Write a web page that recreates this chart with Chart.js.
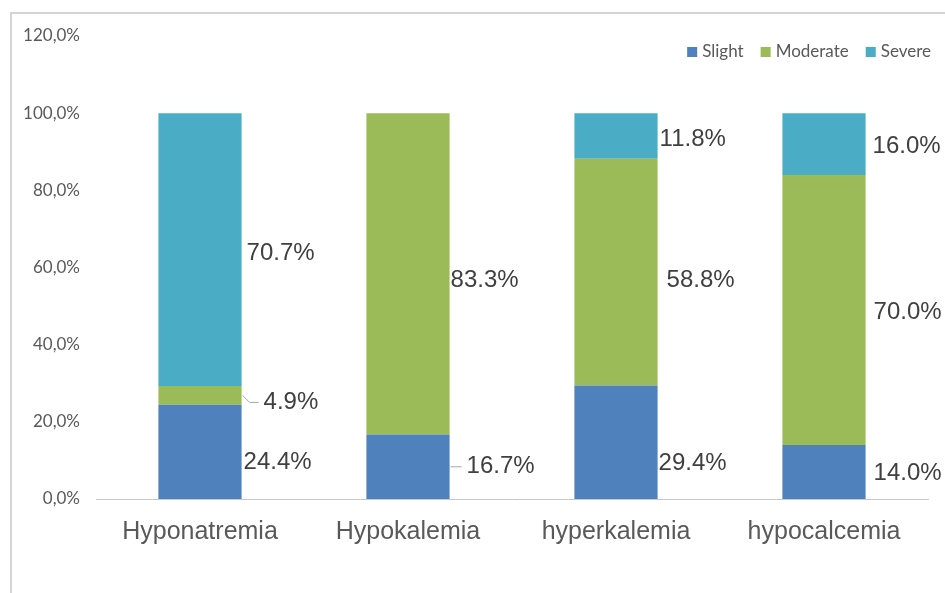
<!DOCTYPE html>
<html>
<head>
<meta charset="utf-8">
<script src="https://cdn.jsdelivr.net/npm/chart.js@4.4.1/dist/chart.umd.min.js"></script>
<style>
  html, body { margin: 0; padding: 0; background: #fff; }
  #wrap { position: relative; width: 945px; height: 593px; overflow: hidden; }
  #frame { position: absolute; left: 10px; top: 12px; width: 1000px; height: 700px;
           border-left: 2px solid #d4d4d4; border-top: 2px solid #d4d4d4; }
  #chart { position: absolute; left: 0; top: 0; }
</style>
</head>
<body>
<div id="wrap">
  <div id="frame"></div>
  <canvas id="chart" width="945" height="593"></canvas>
</div>
<script>
// categories and series (percent of each disorder)
var categories = ['Hyponatremia', 'Hypokalemia', 'hyperkalemia', 'hypocalcemia'];
var slight = [24.4, 16.7, 29.4, 14.0];
var moderate = [4.9, 83.3, 58.8, 70.0];
var severe = [70.7, 0, 11.8, 16.0];
var yTicks = [0, 20, 40, 60, 80, 100, 120];

// label nudges [dx, dy] in px, per dataset then category (Excel moved some labels)
var labelNudge = [
    [[2, 10], [17, 0], [1, 21], [8, 1]],
    [[22, 7], [1, 7], [9, 8], [8, 2]],
    [[5, 4], [0, 0], [2, 3], [7, 2]]
];

// draw the value labels to the right of each segment
var valueLabels = {
    id: 'valueLabels',
    afterDatasetsDraw: function (chart) {
        var ctx = chart.ctx;
        ctx.save();
        ctx.font = '24px "Liberation Sans", Arial, sans-serif';
        ctx.fillStyle = '#404040';
        ctx.textBaseline = 'middle';
        ctx.textAlign = 'left';
        chart.data.datasets.forEach(function (ds, i) {
            var meta = chart.getDatasetMeta(i);
            meta.data.forEach(function (bar, j) {
                var v = ds.data[j];
                if (!v) return;
                var right = bar.x + bar.width / 2;
                var midY = (bar.y + bar.base) / 2;
                var n = labelNudge[i][j];
                var tx = right + n[0];
                var ty = midY + n[1];
                // leader line for labels pushed away from their segment
                if (n[0] > 12) {
                    ctx.strokeStyle = '#a6a6a6';
                    ctx.lineWidth = 1;
                    ctx.beginPath();
                    ctx.moveTo(right + 1, midY);
                    if (Math.abs(n[1]) > 2) ctx.lineTo(right + 8, ty);
                    ctx.lineTo(tx - 5, ty);
                    ctx.stroke();
                }
                ctx.fillText(v.toFixed(1) + '%', tx, ty);
            });
        });
        ctx.restore();
    }
};

// legend drawn top right inside the plot, like the original
var cornerLegend = {
    id: 'cornerLegend',
    afterDraw: function (chart) {
        var ctx = chart.ctx;
        ctx.save();
        ctx.font = '17px Lato, sans-serif';
        ctx.textBaseline = 'middle';
        var box = 10, gap = 5, spacing = 17, y = 52;
        var items = chart.data.datasets.map(function (ds) {
            return { text: ds.label, color: ds.backgroundColor, w: box + gap + ctx.measureText(ds.label).width };
        });
        var total = items.reduce(function (s, it) { return s + it.w; }, 0) + spacing * (items.length - 1);
        var x = 931 - total;
        items.forEach(function (it) {
            ctx.fillStyle = it.color;
            ctx.fillRect(x, y - box / 2, box, box);
            ctx.fillStyle = '#595959';
            ctx.fillText(it.text, x + box + gap, y);
            x += it.w + spacing;
        });
        ctx.restore();
    }
};

var ctx = document.getElementById('chart').getContext('2d');
var chart = new Chart(ctx, {
    type: 'bar',
    data: {
        labels: categories,
        datasets: [
            { label: 'Slight', data: slight, backgroundColor: '#4f81bd' },
            { label: 'Moderate', data: moderate, backgroundColor: '#9bbb59' },
            { label: 'Severe', data: severe, backgroundColor: '#4bacc6' }
        ]
    },
    options: {
        responsive: false,
        animation: false,
        layout: { padding: { top: 36, right: 17, bottom: 0, left: 0 } },
        datasets: { bar: { categoryPercentage: 0.4, barPercentage: 1.0, borderWidth: 0 } },
        plugins: {
            legend: { display: false },
            tooltip: { enabled: false }
        },
        scales: {
            x: {
                stacked: true,
                grid: { display: false },
                border: { display: true, color: '#c8c8c8', width: 1 },
                ticks: {
                    color: '#595959',
                    padding: 10,
                    maxRotation: 0,
                    font: { family: '"Liberation Sans", Arial, sans-serif', size: 25 }
                },
                afterFit: function (s) { s.height = 94; }
            },
            y: {
                stacked: true,
                min: 0,
                max: 120,
                afterBuildTicks: function (s) {
                    s.ticks = yTicks.map(function (v) { return { value: v }; });
                },
                grid: { display: false },
                border: { display: false },
                ticks: {
                    color: '#595959',
                    padding: 8,
                    font: { family: 'Lato, sans-serif', size: 17 },
                    callback: function (v) { return v.toFixed(1).replace('.', ',') + '%'; }
                },
                afterFit: function (s) { s.width = 96; }
            }
        }
    },
    plugins: [valueLabels, cornerLegend]
});
</script>
</body>
</html>
